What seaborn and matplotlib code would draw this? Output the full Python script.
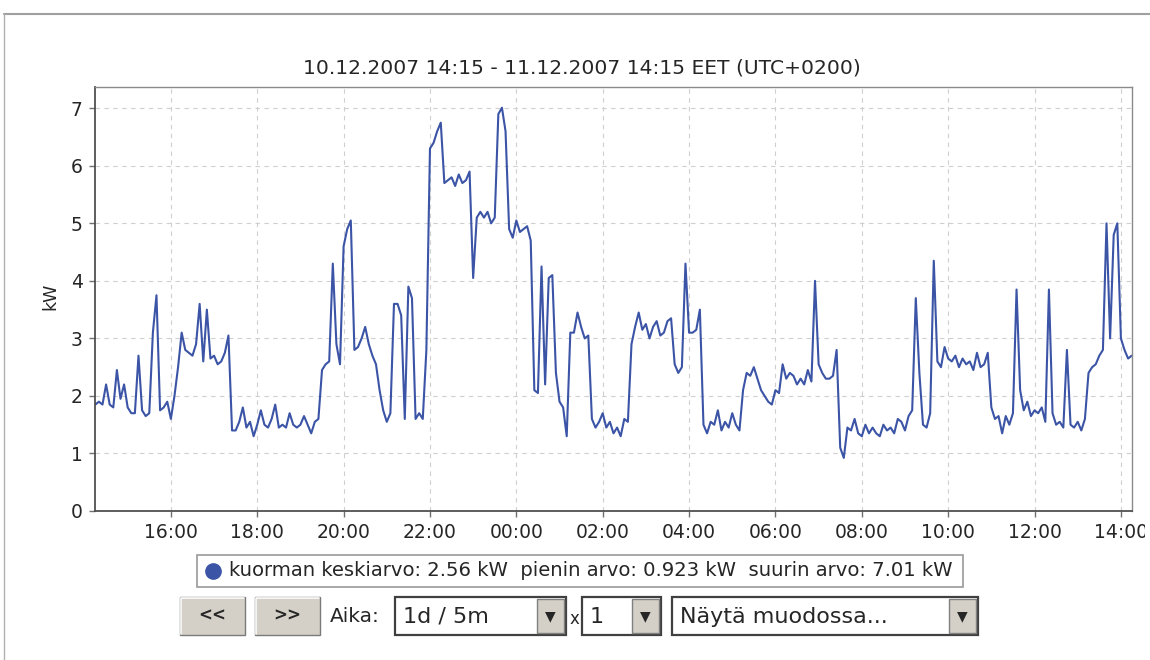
import numpy as np
import pandas as pd
import seaborn as sns
import matplotlib.pyplot as plt
import matplotlib.dates as mdates
from matplotlib.lines import Line2D
from matplotlib.patches import Rectangle
from matplotlib.transforms import Bbox, TransformedBbox

# Load readings (kW), 5 minute steps from 10.12.2007 14:15 to 11.12.2007 14:15
kw = [
    # 14:15 -
    1.85, 1.9, 1.85, 2.2, 1.85, 1.8, 2.45, 1.95, 2.2, 1.8, 1.7, 1.7,
    2.7, 1.75, 1.65, 1.7, 3.1, 3.75, 1.75, 1.8, 1.9, 1.6, 2.0, 2.5,
    3.1, 2.8, 2.75, 2.7, 2.9, 3.6, 2.6, 3.5, 2.65, 2.7, 2.55, 2.6,
    # 17:15 -
    2.75, 3.05, 1.4, 1.4, 1.55, 1.8, 1.45, 1.55, 1.3, 1.5, 1.75, 1.5,
    1.45, 1.6, 1.85, 1.45, 1.5, 1.45, 1.7, 1.5, 1.45, 1.5, 1.65, 1.5,
    1.35, 1.55, 1.6, 2.45, 2.55, 2.6, 4.3, 2.9, 2.55, 4.6, 4.9, 5.05,
    # 20:15 -
    2.8, 2.85, 3.0, 3.2, 2.9, 2.7, 2.55, 2.1, 1.75, 1.55, 1.7, 3.6,
    3.6, 3.4, 1.6, 3.9, 3.7, 1.6, 1.7, 1.6, 2.8, 6.3, 6.4, 6.6,
    6.75, 5.7, 5.75, 5.8, 5.65, 5.85, 5.7, 5.75, 5.9, 4.05, 5.1, 5.2,
    # 23:15 -
    5.1, 5.2, 5.0, 5.1, 6.9, 7.01, 6.6, 4.9, 4.75, 5.05, 4.85, 4.9,
    4.95, 4.7, 2.1, 2.05, 4.25, 2.2, 4.05, 4.1, 2.4, 1.9, 1.8, 1.3,
    3.1, 3.1, 3.45, 3.2, 3.0, 3.05, 1.6, 1.45, 1.55, 1.7, 1.45, 1.55,
    # 02:15 -
    1.35, 1.45, 1.3, 1.6, 1.55, 2.9, 3.2, 3.45, 3.15, 3.25, 3.0, 3.2,
    3.3, 3.05, 3.1, 3.3, 3.35, 2.55, 2.4, 2.5, 4.3, 3.1, 3.1, 3.15,
    3.5, 1.5, 1.35, 1.55, 1.5, 1.75, 1.4, 1.55, 1.45, 1.7, 1.5, 1.4,
    # 05:15 -
    2.1, 2.4, 2.35, 2.5, 2.3, 2.1, 2.0, 1.9, 1.85, 2.1, 2.05, 2.55,
    2.3, 2.4, 2.35, 2.2, 2.3, 2.2, 2.45, 2.25, 4.0, 2.55, 2.4, 2.3,
    2.3, 2.35, 2.8, 1.1, 0.923, 1.45, 1.4, 1.6, 1.35, 1.3, 1.5, 1.35,
    # 08:15 -
    1.45, 1.35, 1.3, 1.5, 1.4, 1.45, 1.35, 1.6, 1.55, 1.4, 1.65, 1.75,
    3.7, 2.4, 1.5, 1.45, 1.7, 4.35, 2.6, 2.5, 2.85, 2.65, 2.6, 2.7,
    2.5, 2.65, 2.55, 2.6, 2.45, 2.75, 2.5, 2.55, 2.75, 1.8, 1.6, 1.65,
    # 11:15 -
    1.35, 1.65, 1.5, 1.7, 3.85, 2.1, 1.75, 1.9, 1.65, 1.75, 1.7, 1.8,
    1.55, 3.85, 1.7, 1.5, 1.55, 1.45, 2.8, 1.5, 1.45, 1.55, 1.4, 1.6,
    2.4, 2.5, 2.55, 2.7, 2.8, 5.0, 3.0, 4.8, 5.0, 3.0, 2.8, 2.65,
    # 14:15
    2.7,
]
assert len(kw) == 289

start = pd.Timestamp("2007-12-10 14:15")
end = pd.Timestamp("2007-12-11 14:15")
times = pd.date_range(start, periods=len(kw), freq="5min")
tick_times = pd.date_range("2007-12-10 16:00", "2007-12-11 14:00", freq="2h")

title = "10.12.2007 14:15 - 11.12.2007 14:15 EET (UTC+0200)"
legend_text = "kuorman keskiarvo: 2.56 kW  pienin arvo: 0.923 kW  suurin arvo: 7.01 kW"
line_color = "#3b54a6"

df = pd.DataFrame({"time": times, "kW": kw})

sns.set_theme(style="white")
plt.rcParams["font.family"] = ["DejaVu Sans"]

W, H = 1150, 660
fig = plt.figure(figsize=(W / 100, H / 100), dpi=100)


def fx(x):
    return x / W


def fy(y):
    return 1 - y / H


ax = fig.add_axes([fx(95.3), fy(511), fx(1131.7) - fx(95.3), fy(87) - fy(511)])

sns.lineplot(data=df, x="time", y="kW", ax=ax, color=line_color, linewidth=1.5)

ax.set_xlim(start, end)
ax.set_ylim(0, 7.37)
ax.set_yticks(range(0, 8))
ax.set_xticks(tick_times)
ax.xaxis.set_major_formatter(mdates.DateFormatter("%H:%M"))
ax.set_xlabel("")
ax.set_ylabel("")
ax.grid(True, color="#cfcfcf", linestyle=(0, (4, 4)), linewidth=0.8)
ax.tick_params(direction="out", length=4, width=1, color="#707070",
               labelsize=13.5, pad=5, left=True, bottom=True)
for side in ["top", "right"]:
    ax.spines[side].set_color("#8a8a8a")
    ax.spines[side].set_linewidth(1.0)
for side in ["left", "bottom"]:
    ax.spines[side].set_color("#505050")
    ax.spines[side].set_linewidth(1.3)

fig.text(fx(582), fy(68), title, ha="center", va="center", fontsize=14.6)
fig.text(fx(50), fy(296), "kW", ha="center", va="center", rotation=90, fontsize=12.5)

# outer panel frame
fig.add_artist(Line2D([fx(4), 1], [fy(14), fy(14)], transform=fig.transFigure,
                      color="#a0a0a0", lw=1.5))
fig.add_artist(Line2D([fx(4), fx(4)], [0, fy(14)], transform=fig.transFigure,
                      color="#b0b0b0", lw=1.0))


def box(x0, y0, x1, y1, face, edge, lw=1.0):
    fig.add_artist(Rectangle((fx(x0), fy(y1)), fx(x1) - fx(x0), fy(y0) - fy(y1),
                             transform=fig.transFigure, facecolor=face,
                             edgecolor=edge, linewidth=lw))


# legend box
box(197, 555, 963, 587, "white", "#9a9a9a", 1.2)
fig.add_artist(Line2D([fx(213)], [fy(571)], transform=fig.transFigure, marker="o",
                      markersize=11, color=line_color, linestyle="none"))
fig.text(fx(229), fy(571), legend_text, ha="left", va="center", fontsize=14.1)


# buttons
def button(x0, x1, label):
    box(x0, 597, x1, 635, "#d4d0c8", "#7a7a7a", 1.0)
    fig.add_artist(Line2D([fx(x0 + 1), fx(x0 + 1), fx(x1 - 1)], [fy(634), fy(598), fy(598)],
                          transform=fig.transFigure, color="white", lw=1.2))
    fig.text(fx((x0 + x1) / 2), fy(616), label, ha="center", va="center",
             fontsize=12, fontweight="bold")


button(180, 245, "<<")
button(255, 320, ">>")
fig.text(fx(330), fy(617), "Aika:", ha="left", va="center", fontsize=14.5)


def dropdown(x0, x1, label):
    box(x0, 597, x1, 635, "white", "#404040", 1.6)
    box(x1 - 29, 599, x1 - 2, 633, "#d4d0c8", "#808080", 1.0)
    fig.text(fx(x1 - 15.5), fy(616), "\u25bc", ha="center", va="center", fontsize=10)
    fig.text(fx(x0 + 8), fy(617), label, ha="left", va="center", fontsize=16)


dropdown(395, 566, "1d / 5m")
fig.text(fx(574), fy(619), "x", ha="center", va="center", fontsize=12)
dropdown(582, 661, "1")
dropdown(672, 978, "Näytä muodossa...")

# the last tick label is cut by the panel edge
fig.canvas.draw()
clip = TransformedBbox(Bbox([[0, 0], [1145 / W, 1]]), fig.transFigure)
for lab in ax.get_xticklabels():
    lab.set_clip_box(clip)
    lab.set_clip_on(True)

fig.savefig("out.png", dpi=100)
